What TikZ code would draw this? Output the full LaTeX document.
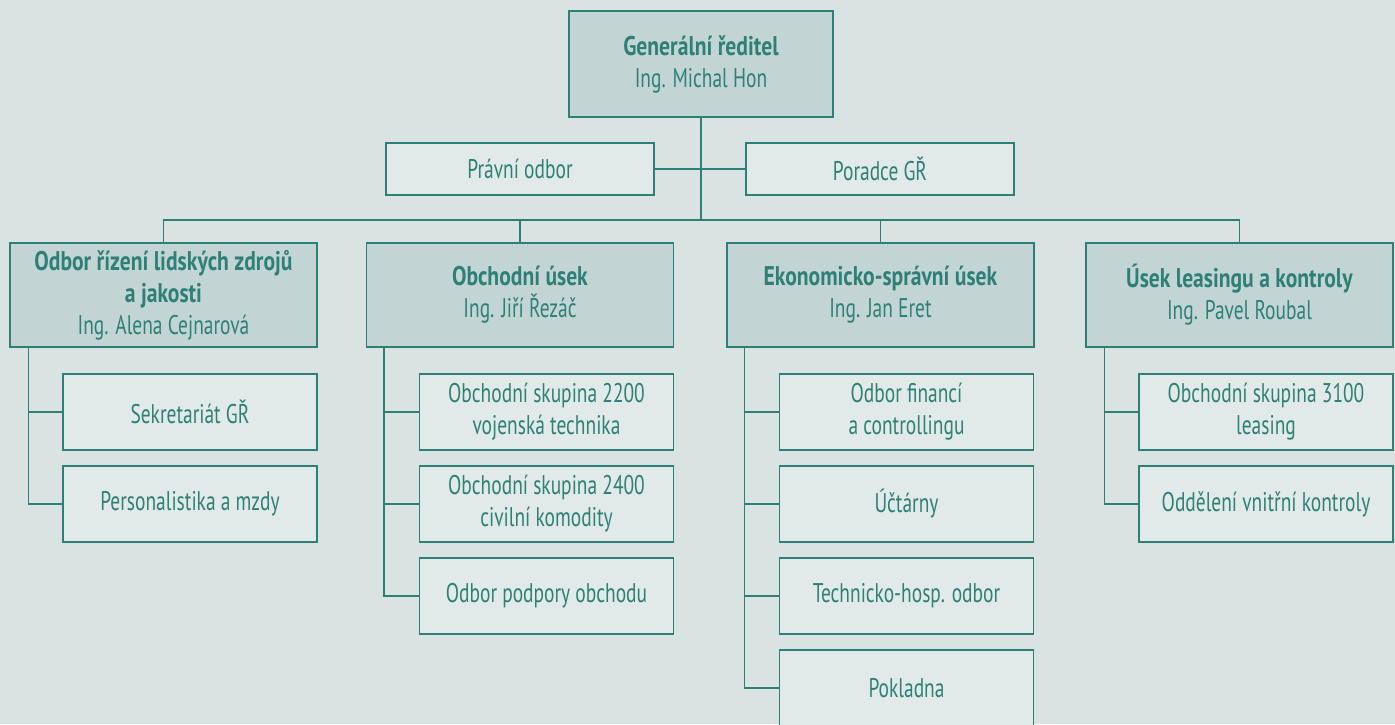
\documentclass[tikz,border=0pt]{standalone}
\usepackage{fontspec}
\setmainfont{PT Sans}[UprightFeatures={FakeStretch=0.72}, BoldFeatures={FakeStretch=0.8}]
\usepackage{tikz}
\usetikzlibrary{positioning, calc}
\definecolor{orgline}{RGB}{46,128,119}
\definecolor{orgbg}{RGB}{217,227,225}
\definecolor{orghead}{RGB}{194,213,212}
\definecolor{orgunit}{RGB}{225,234,232}

\begin{document}
\begin{tikzpicture}[
    x=1pt, y=-1pt,
    box/.style={draw=orgline, line width=1.2pt, text=orgline, align=center, inner sep=0pt, font=\fontsize{27}{32}\selectfont},
    topbox/.style={box, fill=orghead, minimum width=264pt, minimum height=106pt},
    headbox/.style={box, fill=orghead, minimum width=307pt, minimum height=104pt},
    staffbox/.style={box, fill=orgunit, minimum width=268pt, minimum height=52pt},
    unitbox/.style={box, fill=orgunit, minimum width=254pt, minimum height=76pt},
    conn/.style={draw=orgline, line width=1.2pt}
]
    % Background
    \fill[orgbg] (0,0) rectangle (1395,724);
    \useasboundingbox (0,0) rectangle (1395,724);

    % Top
    \node[topbox] (gr) at (701,64) {\textbf{Generální ředitel}\\Ing. Michal Hon};
    \node[staffbox] (pravni) at (520,169) {Právní odbor};
    \node[staffbox] (poradce) at (880,169) {Poradce GŘ};

    % Divisions
    \node[headbox] (lzj) at (163.5,295) {\textbf{Odbor řízení lidských zdrojů}\\\textbf{a jakosti}\\Ing. Alena Cejnarová};
    \node[headbox] (obch) at (520,295) {\textbf{Obchodní úsek}\\Ing. Jiří Řezáč};
    \node[headbox] (eko) at (880.5,295) {\textbf{Ekonomicko-správní úsek}\\Ing. Jan Eret};
    \node[headbox] (lk) at (1239.5,295) {\textbf{Úsek leasingu a kontroly}\\Ing. Pavel Roubal};

    % Units
    \node[unitbox] (sekr) at (190,412) {Sekretariát GŘ};
    \node[unitbox] (pers) at (190,504) {Personalistika a mzdy};

    \node[unitbox] (os22) at (546.5,412) {Obchodní skupina 2200\\vojenská technika};
    \node[unitbox] (os24) at (546.5,504) {Obchodní skupina 2400\\civilní komodity};
    \node[unitbox] (podp) at (546.5,596) {Odbor podpory obchodu};

    \node[unitbox] (fin) at (906.5,412) {Odbor financí\\a controllingu};
    \node[unitbox] (uct) at (906.5,504) {Účtárny};
    \node[unitbox] (thos) at (906.5,596) {Technicko-hosp. odbor};
    \node[unitbox] (pokl) at (906.5,688) {Pokladna};

    \node[unitbox] (os31) at (1266,412) {Obchodní skupina 3100\\leasing};
    \node[unitbox] (kontr) at (1266,504) {Oddělení vnitřní kontroly};

    % Connectors
    \coordinate (bus) at (701,220);
    \draw[conn] (gr.south) -- (bus);
    \draw[conn] (pravni) -- (poradce);
    \draw[conn] (lzj.north) |- (bus) -| (lk.north);
    \draw[conn] (obch.north) -- (obch.north |- bus);
    \draw[conn] (eko.north) -- (eko.north |- bus);

    \draw[conn] ([xshift=19pt]lzj.south west) |- (pers.west);
    \draw[conn] ([xshift=19pt]lzj.south west) |- (sekr.west);
    \draw[conn] ([xshift=18pt]obch.south west) |- (podp.west);
    \foreach \u in {os22, os24}
        \draw[conn] ([xshift=18pt]obch.south west) |- (\u.west);
    \draw[conn] ([xshift=18pt]eko.south west) |- (pokl.west);
    \foreach \u in {fin, uct, thos}
        \draw[conn] ([xshift=18pt]eko.south west) |- (\u.west);
    \draw[conn] ([xshift=19pt]lk.south west) |- (kontr.west);
    \draw[conn] ([xshift=19pt]lk.south west) |- (os31.west);
\end{tikzpicture}
\end{document}
